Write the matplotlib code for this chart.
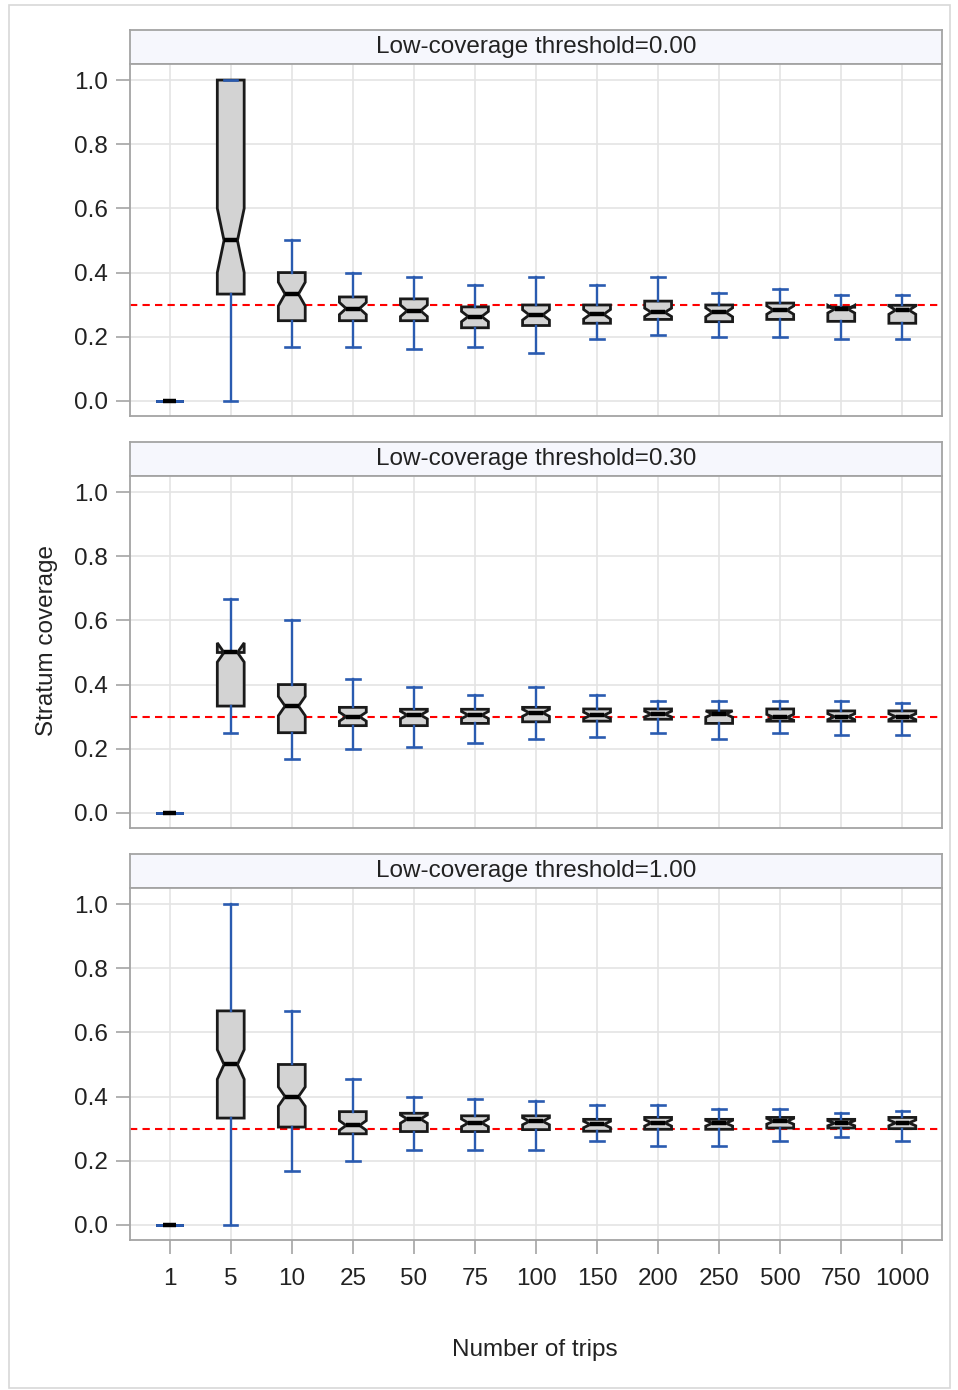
import matplotlib
matplotlib.use("Agg")
import matplotlib.pyplot as plt
from matplotlib.patches import Rectangle

plt.rcParams["font.family"] = ["Liberation Sans", "DejaVu Sans"]

trips = ["1", "5", "10", "25", "50", "75", "100", "150", "200", "250", "500", "750", "1000"]
thresholds = ["0.00", "0.30", "1.00"]
target = 0.3

# threshold = 0.00
lo_00 = [0, 0, 0.167, 0.167, 0.162, 0.167, 0.15, 0.193, 0.206, 0.2, 0.2, 0.193, 0.193]
q1_00 = [0, 0.333, 0.25, 0.25, 0.25, 0.228, 0.235, 0.242, 0.254, 0.247, 0.254, 0.248, 0.242]
med_00 = [0, 0.5, 0.333, 0.288, 0.281, 0.263, 0.268, 0.27, 0.276, 0.276, 0.283, 0.286, 0.283]
q3_00 = [0, 1.0, 0.4, 0.324, 0.318, 0.293, 0.299, 0.299, 0.311, 0.299, 0.305, 0.292, 0.298]
hi_00 = [0, 1.0, 0.5, 0.4, 0.386, 0.36, 0.386, 0.361, 0.386, 0.336, 0.349, 0.33, 0.33]
ci_00 = [0, 0.1, 0.037, 0.019, 0.018, 0.016, 0.016, 0.015, 0.013, 0.014, 0.013, 0.012, 0.013]

# threshold = 0.30
lo_30 = [0, 0.25, 0.167, 0.2, 0.205, 0.217, 0.23, 0.236, 0.248, 0.23, 0.248, 0.242, 0.242]
q1_30 = [0, 0.333, 0.25, 0.272, 0.272, 0.279, 0.284, 0.286, 0.292, 0.279, 0.286, 0.286, 0.286]
med_30 = [0, 0.5, 0.333, 0.3, 0.305, 0.305, 0.312, 0.304, 0.308, 0.308, 0.298, 0.3, 0.3]
q3_30 = [0, 0.5, 0.4, 0.329, 0.323, 0.323, 0.329, 0.324, 0.324, 0.318, 0.324, 0.318, 0.318]
hi_30 = [0, 0.667, 0.6, 0.416, 0.392, 0.367, 0.392, 0.367, 0.348, 0.348, 0.348, 0.348, 0.342]
ci_30 = [0, 0.03, 0.03, 0.014, 0.012, 0.011, 0.011, 0.01, 0.009, 0.01, 0.009, 0.009, 0.009]

# threshold = 1.00
lo_100 = [0, 0, 0.167, 0.2, 0.235, 0.235, 0.235, 0.26, 0.247, 0.247, 0.26, 0.273, 0.26]
q1_100 = [0, 0.333, 0.305, 0.284, 0.291, 0.291, 0.297, 0.292, 0.298, 0.298, 0.302, 0.302, 0.3]
med_100 = [0, 0.5, 0.4, 0.31, 0.33, 0.318, 0.323, 0.313, 0.318, 0.317, 0.323, 0.317, 0.318]
q3_100 = [0, 0.667, 0.5, 0.353, 0.348, 0.34, 0.34, 0.329, 0.335, 0.329, 0.335, 0.329, 0.335]
hi_100 = [0, 1.0, 0.667, 0.454, 0.398, 0.392, 0.386, 0.373, 0.373, 0.36, 0.36, 0.348, 0.354]
ci_100 = [0, 0.046, 0.03, 0.015, 0.013, 0.012, 0.011, 0.01, 0.01, 0.009, 0.009, 0.008, 0.009]

panels = [
    (lo_00, q1_00, med_00, q3_00, hi_00, ci_00),
    (lo_30, q1_30, med_30, q3_30, hi_30, ci_30),
    (lo_100, q1_100, med_100, q3_100, hi_100, ci_100),
]

W, H = 958, 1390
fig = plt.figure(figsize=(W / 100, H / 100), dpi=100)
fig.patches.append(Rectangle((9 / W, 1 - 1388 / H), 941 / W, 1383 / H,
                             transform=fig.transFigure, fill=False,
                             edgecolor="#d8d8d8", linewidth=1.2))

FS = 17.5
BLUE = "#2a5bb0"
FRAME = "#a4a4a4"
TXT = "#222222"
left, width = 130 / W, 812 / W
tops = [30, 442, 854]
strip_h, axes_h = 34, 352

for i, (lo, q1, med, q3, hi, ci) in enumerate(panels):
    top = tops[i]
    # header strip
    sax = fig.add_axes([left, 1 - (top + strip_h) / H, width, strip_h / H])
    sax.set_facecolor("#f6f7fd")
    sax.set_xticks([])
    sax.set_yticks([])
    for s in sax.spines.values():
        s.set_color(FRAME)
        s.set_linewidth(1.3)
    sax.text(0.5, 0.5, "Low-coverage threshold=" + thresholds[i], ha="center",
             va="center", fontsize=FS, color=TXT, transform=sax.transAxes)

    ax = fig.add_axes([left, 1 - (top + strip_h + axes_h) / H, width, axes_h / H])
    stats = []
    for k in range(len(trips)):
        stats.append(dict(whislo=lo[k], q1=q1[k], med=med[k], q3=q3[k], whishi=hi[k],
                          cilo=med[k] - ci[k], cihi=med[k] + ci[k], fliers=[]))
    caps = [0.4] + [0.22] * (len(trips) - 1)
    ax.bxp(stats, positions=range(len(trips)), widths=0.44, capwidths=caps,
           shownotches=True, patch_artist=True, showfliers=False,
           boxprops=dict(facecolor="#d3d3d3", edgecolor="#1a1a1a", linewidth=2.0),
           medianprops=dict(color="black", linewidth=3.2, solid_capstyle="butt"),
           whiskerprops=dict(color=BLUE, linewidth=1.7),
           capprops=dict(color=BLUE, linewidth=1.9), zorder=3)
    ax.axhline(target, color="red", linewidth=1.5, dashes=(3.5, 2.5), zorder=2)

    ax.set_xlim(-0.65, 12.65)
    ax.set_ylim(-0.047, 1.05)
    ax.set_yticks([0, 0.2, 0.4, 0.6, 0.8, 1.0])
    ax.set_yticklabels(["0.0", "0.2", "0.4", "0.6", "0.8", "1.0"])
    ax.set_xticks(range(len(trips)))
    ax.grid(True, color="#e4e4e4", linewidth=1.2, zorder=0)
    ax.set_axisbelow(True)
    for s in ax.spines.values():
        s.set_color(FRAME)
        s.set_linewidth(1.3)
    ax.tick_params(axis="y", length=10, width=1.2, color=FRAME, pad=6,
                   labelsize=FS, labelcolor=TXT)
    if i == 2:
        ax.set_xticklabels(trips)
        ax.tick_params(axis="x", length=10, width=1.2, color=FRAME, pad=10.5,
                       labelsize=FS, labelcolor=TXT)
    else:
        ax.tick_params(axis="x", length=0, labelbottom=False)

fig.text(47 / W, 1 - 640 / H, "Stratum coverage", rotation=90, ha="center",
         va="center", fontsize=FS, color=TXT)
fig.text(535 / W, 1 - 1350 / H, "Number of trips", ha="center", va="center",
         fontsize=FS, color=TXT)

fig.savefig("out.png", dpi=100, facecolor="white")
